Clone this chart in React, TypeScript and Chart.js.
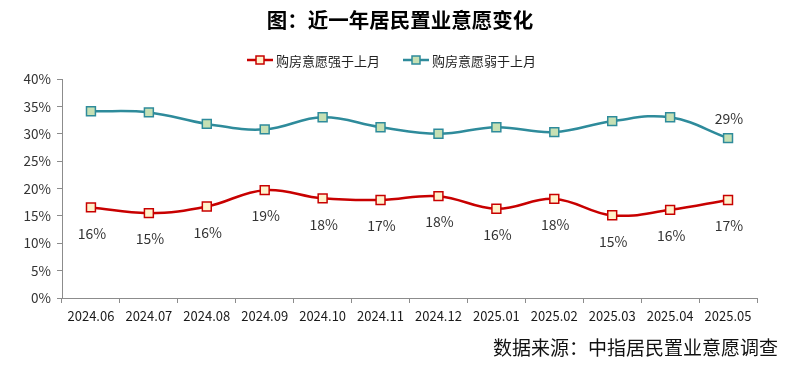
import React, { useEffect, useRef } from "react";
import { Chart, registerables } from "chart.js";

Chart.register(...registerables);

const categories = [
  "2024.06", "2024.07", "2024.08", "2024.09", "2024.10", "2024.11",
  "2024.12", "2025.01", "2025.02", "2025.03", "2025.04", "2025.05",
];
const strongerValues = [16.55, 15.5, 16.7, 19.7, 18.2, 17.9, 18.6, 16.3, 18.1, 15.1, 16.1, 17.9];
const weakerValues = [34.1, 33.9, 31.8, 30.8, 33.0, 31.2, 30.0, 31.2, 30.3, 32.3, 33.0, 29.2];
const yTicks = [0, 5, 10, 15, 20, 25, 30, 35, 40];
const seriesNames = ["购房意愿强于上月", "购房意愿弱于上月"];
const titleText = "图：近一年居民置业意愿变化";
const sourceText = "数据来源：中指居民置业意愿调查";

const RED = "#C80000";
const RED_FILL = "#FFF2CC";
const TEAL = "#2E8B9B";
const TEAL_FILL = "#C6E0B4";
const FONT = '"Noto Sans CJK SC", "Noto Sans", sans-serif';

const decorPlugin = {
  id: "decor",
  afterDraw(chart: any) {
    const ctx = chart.ctx as CanvasRenderingContext2D;
    ctx.save();
    // Title
    ctx.fillStyle = "#000";
    ctx.font = `bold 20.5px ${FONT}`;
    ctx.textAlign = "center";
    ctx.textBaseline = "middle";
    ctx.fillText(titleText, 400, 20);

    // Legend
    const items = [
      { x: 247, color: RED, fill: RED_FILL },
      { x: 403, color: TEAL, fill: TEAL_FILL },
    ];
    ctx.font = `13px ${FONT}`;
    ctx.textAlign = "left";
    chart.data.datasets.forEach((ds: any, i: number) => {
      const it = items[i];
      const y = 60;
      ctx.strokeStyle = it.color;
      ctx.lineWidth = 2.5;
      ctx.beginPath();
      ctx.moveTo(it.x, y);
      ctx.lineTo(it.x + 26, y);
      ctx.stroke();
      ctx.fillStyle = it.fill;
      ctx.lineWidth = 1.5;
      ctx.fillRect(it.x + 9, y - 4, 8, 8);
      ctx.strokeRect(it.x + 9, y - 4, 8, 8);
      ctx.fillStyle = "#222";
      ctx.fillText(ds.label, it.x + 29, y + 1);
    });

    // Data labels
    ctx.font = `14px ${FONT}`;
    ctx.textAlign = "center";
    ctx.fillStyle = "#333";
    const m0 = chart.getDatasetMeta(0);
    m0.data.forEach((pt: any, j: number) => {
      const v = chart.data.datasets[0].data[j];
      ctx.fillText(`${Math.floor(v)}%`, pt.x + 1, pt.y + 26);
    });
    const m1 = chart.getDatasetMeta(1);
    const last = m1.data.length - 1;
    const lp = m1.data[last];
    ctx.fillText(`${Math.floor(chart.data.datasets[1].data[last])}%`, lp.x + 1, lp.y - 19);

    // Source
    ctx.font = `19px ${FONT}`;
    ctx.textAlign = "right";
    ctx.fillStyle = "#111";
    ctx.fillText(sourceText, 778, 348);
    ctx.restore();
  },
};

export default function App() {
  const ref = useRef<HTMLCanvasElement>(null);
  useEffect(() => {
    if (!ref.current) return;
    const chart = new Chart(ref.current, {
      type: "line",
      data: {
        labels: categories,
        datasets: [
          {
            label: seriesNames[0],
            data: strongerValues,
            borderColor: RED,
            backgroundColor: RED_FILL,
            pointBackgroundColor: RED_FILL,
            pointBorderColor: RED,
            pointBorderWidth: 1.5,
            pointStyle: "rect",
            pointRadius: 6.3,
            borderWidth: 2.5,
            tension: 0.4,
          },
          {
            label: seriesNames[1],
            data: weakerValues,
            borderColor: TEAL,
            backgroundColor: TEAL_FILL,
            pointBackgroundColor: TEAL_FILL,
            pointBorderColor: TEAL,
            pointBorderWidth: 1.5,
            pointStyle: "rect",
            pointRadius: 6.3,
            borderWidth: 2.5,
            tension: 0.4,
          },
        ],
      },
      options: {
        animation: false,
        responsive: false,
        layout: { padding: { top: 79, right: 30, bottom: 0, left: 0 } },
        plugins: {
          legend: { display: false },
          title: { display: false },
          tooltip: { enabled: false },
        },
        scales: {
          x: {
            offset: true,
            grid: {
              offset: true,
              drawOnChartArea: false,
              drawTicks: true,
              tickLength: 5,
              color: "#8C8C8C",
            },
            border: { color: "#8C8C8C", width: 1 },
            ticks: {
              color: "#1a1a1a",
              font: { family: FONT, size: 13 },
              padding: 5,
              maxRotation: 0,
              autoSkip: false,
            },
            afterFit(scale: any) {
              scale.height = 71;
            },
          },
          y: {
            min: 0,
            max: 40,
            afterBuildTicks(scale: any) {
              scale.ticks = yTicks.map((v) => ({ value: v }));
            },
            grid: {
              drawOnChartArea: false,
              drawTicks: true,
              tickLength: 5,
              color: "#8C8C8C",
            },
            border: { color: "#8C8C8C", width: 1 },
            ticks: {
              color: "#333",
              font: { family: FONT, size: 13.5 },
              padding: 6,
              callback: (v: any) => `${v}%`,
            },
            afterFit(scale: any) {
              scale.width = 62;
            },
          },
        },
      },
      plugins: [decorPlugin],
    });
    return () => chart.destroy();
  }, []);
  return (
    <div style={{ position: "fixed", left: 0, top: 0, width: 787, height: 369, background: "#fff" }}>
      <canvas ref={ref} width={787} height={369} style={{ width: 787, height: 369 }} />
    </div>
  );
}
